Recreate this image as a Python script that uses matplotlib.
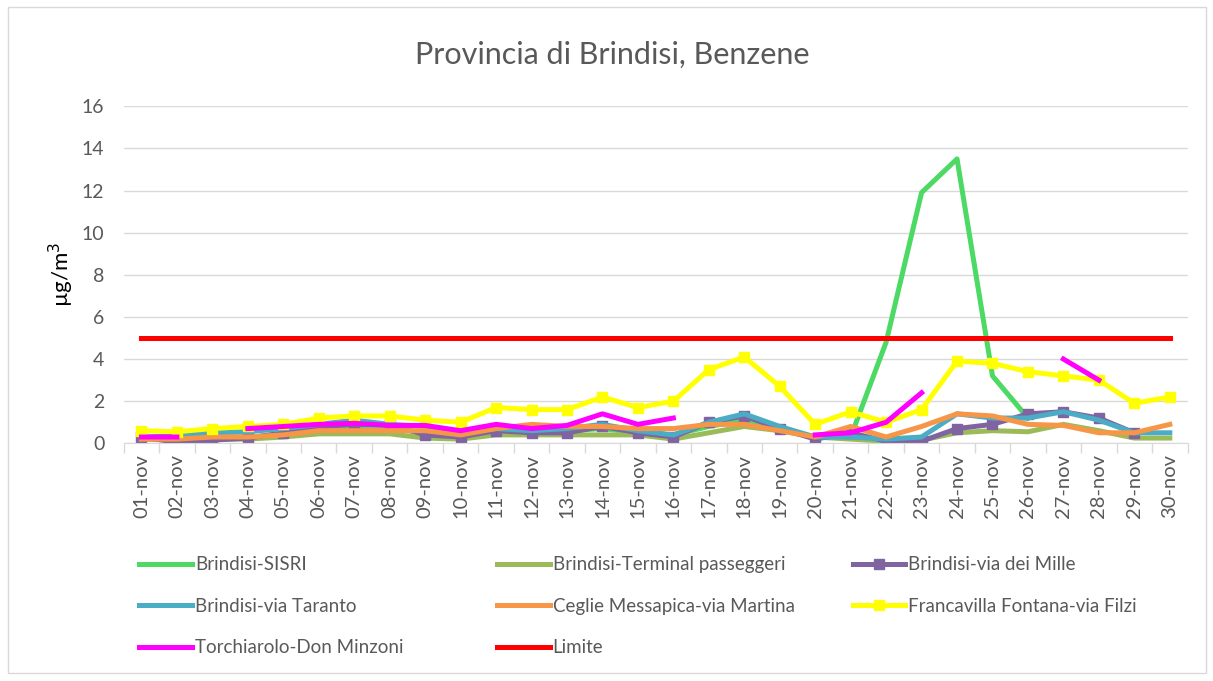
import numpy as np
import matplotlib
matplotlib.use("Agg")
import matplotlib.pyplot as plt
from matplotlib.patches import Rectangle

plt.rcParams['font.family'] = ['Lato', 'DejaVu Sans']

# giorni di novembre
giorni = ["%02d-nov" % d for d in range(1, 31)]
nan = np.nan

sisri = [0.3, 0.2, 0.3, 0.3, 0.4, 0.6, 0.7, 0.7, 0.5, 0.3,
         0.5, 0.5, 0.6, 0.7, 0.5, 0.4, 0.8, 1.1, 0.7, 0.3,
         0.3, 4.8, 11.9, 13.5, 3.2, 1.2, nan, nan, nan, nan]
terminal = [0.2, 0.15, 0.2, 0.2, 0.3, 0.45, 0.45, 0.45, 0.25, 0.2,
            0.4, 0.4, 0.4, 0.4, 0.4, 0.2, 0.5, 0.8, 0.6, 0.3,
            0.2, 0.1, 0.15, 0.5, 0.6, 0.55, 0.9, 0.6, 0.25, 0.25]
via_mille = [0.3, 0.05, 0.15, 0.25, 0.5, 0.8, 0.9, 0.9, 0.4, 0.3,
             0.6, 0.5, 0.5, 0.8, 0.5, 0.3, 1.0, 1.3, 0.7, 0.2,
             0.5, 0.1, 0.1, 0.7, 0.9, 1.4, 1.5, 1.2, 0.5, nan]
via_taranto = [0.3, 0.35, 0.5, 0.55, 0.7, 0.9, 1.1, 0.9, 0.8, 0.5,
               0.7, 0.6, 0.7, 0.9, 0.6, 0.4, 1.0, 1.4, 0.8, 0.3,
               0.3, 0.2, 0.3, 1.4, 1.2, 1.2, 1.5, 1.1, 0.5, 0.5]
ceglie = [0.2, 0.2, 0.3, 0.3, 0.4, 0.6, 0.6, 0.6, 0.6, 0.4,
          0.7, 0.9, 0.8, 0.8, 0.7, 0.7, 0.9, 0.9, 0.6, 0.3,
          0.8, 0.3, 0.8, 1.4, 1.3, 0.9, 0.85, 0.5, 0.5, 0.9]
francavilla = [0.6, 0.55, 0.7, 0.8, 0.9, 1.2, 1.3, 1.3, 1.1, 1.0,
               1.7, 1.6, 1.6, 2.2, 1.7, 2.0, 3.5, 4.1, 2.7, 0.9,
               1.5, 1.0, 1.6, 3.9, 3.8, 3.4, 3.2, 3.0, 1.9, 2.2]
torchiarolo = [0.3, 0.3, nan, 0.7, 0.8, 0.9, 0.95, 0.85, 0.85, 0.6,
               0.9, 0.7, 0.85, 1.4, 0.9, 1.2, nan, nan, nan, 0.4,
               0.5, 1.0, 2.4, nan, nan, nan, 4.0, 3.0, nan, nan]
limite = [5] * 30

x = np.arange(len(giorni))

fig = plt.figure(figsize=(12.13, 6.81), dpi=100)
ax = fig.add_axes([0.102, 0.349, 0.877, 0.495])

lw = 3.6
ax.plot(x, sisri, color='#4CD964', lw=lw, label='Brindisi-SISRI')
ax.plot(x, terminal, color='#9BBB59', lw=lw, label='Brindisi-Terminal passeggeri')
ax.plot(x, via_mille, color='#8064A2', lw=lw, marker='s', ms=7, label='Brindisi-via dei Mille')
ax.plot(x, via_taranto, color='#4BACC6', lw=lw, label='Brindisi-via Taranto')
ax.plot(x, ceglie, color='#F79646', lw=lw, label='Ceglie Messapica-via Martina')
ax.plot(x, francavilla, color='#FFFF00', lw=lw, marker='s', ms=7, label='Francavilla Fontana-via Filzi')
ax.plot(x, torchiarolo, color='#FF00FF', lw=lw, label='Torchiarolo-Don Minzoni')
ax.plot(x, limite, color='#FF0000', lw=lw, label='Limite')

ax.set_xlim(-0.5, 29.5)
ax.set_ylim(0, 16)
ax.set_yticks(range(0, 17, 2))
ax.set_xticks(x)
ax.set_xticklabels(giorni, rotation=90)
ax.set_xticks(np.arange(-0.5, 30, 1), minor=True)
ax.tick_params(axis='x', which='major', length=0, pad=8, labelsize=14.5, colors='#595959')
ax.tick_params(axis='x', which='minor', length=7, color='#D9D9D9', width=1)
ax.tick_params(axis='y', length=0, labelsize=14, colors='#595959', pad=14)
ax.grid(axis='y', color='#D9D9D9', lw=1)
ax.set_axisbelow(True)
for s in ['top', 'right', 'left']:
    ax.spines[s].set_visible(False)
ax.spines['bottom'].set_color('#D9D9D9')

ax.set_ylabel('µg/m$^3$', fontsize=16, color='#000000', labelpad=4)
fig.text(0.505, 0.92, 'Provincia di Brindisi, Benzene', ha='center', va='center',
         fontsize=22, color='#595959')

# legenda su tre colonne, posizionate come nell'originale
h, l = ax.get_legend_handles_labels()
colonne = [([0, 3, 6], 0.115), ([1, 4, 7], 0.41), ([2, 5], 0.703)]
for idx, xpos in colonne:
    leg = fig.legend([h[i] for i in idx], [l[i] for i in idx], frameon=False,
                     loc='upper left', bbox_to_anchor=(xpos, 0.183), fontsize=13.5,
                     labelcolor='#595959', handlelength=2.8, handletextpad=0.15,
                     labelspacing=1.3, borderpad=0, borderaxespad=0)

fig.patches.append(Rectangle((0.007, 0.012), 0.987, 0.977, transform=fig.transFigure,
                             fill=False, edgecolor='#D9D9D9', lw=1))

fig.savefig('out.png', dpi=100)
